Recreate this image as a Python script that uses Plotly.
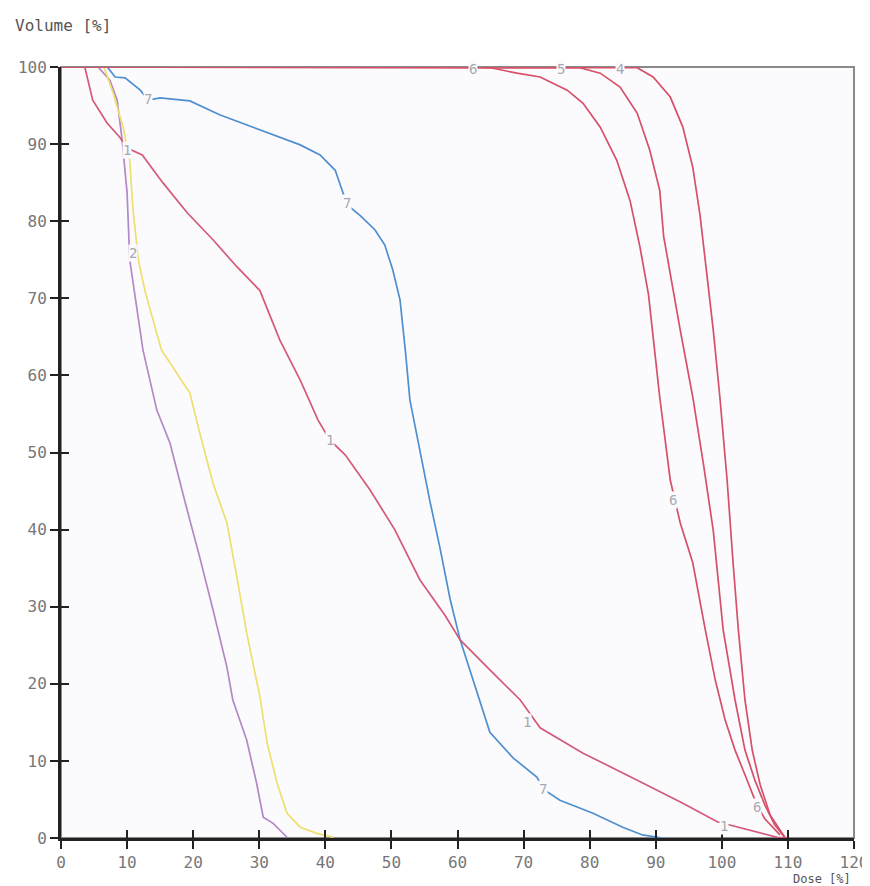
import plotly.graph_objects as go

# ---- data ----
dose_ticks = [0, 10, 20, 30, 40, 50, 60, 70, 80, 90, 100, 110, 120]
vol_ticks = [0, 10, 20, 30, 40, 50, 60, 70, 80, 90, 100]

c1_x = [0, 3.6, 4.8, 7.0, 8.9, 10.0, 12.3, 15.4, 19.1, 23.0, 26.6, 30.1, 33.1, 36.2, 38.9,
        40.7, 43.0, 46.8, 50.5, 54.3, 58.1, 60.4, 64.9, 69.5, 72.5, 79.0, 87.2, 94.1, 99.3,
        102.8, 108.4, 110.3]
c1_y = [100, 100, 95.7, 92.7, 90.9, 89.5, 88.6, 85.0, 81.1, 77.6, 74.1, 71.0, 64.6, 59.4, 54.2,
        51.6, 49.7, 45.1, 40.0, 33.5, 28.9, 25.7, 21.8, 17.9, 14.3, 11.0, 7.5, 4.5, 2.1,
        1.3, 0.1, 0]

c2_x = [0, 6.5, 7.9, 9.4, 10.4, 10.9, 11.7, 12.7, 13.5, 15.2, 19.5, 21.0, 23.0, 25.1,
        26.6, 28.1, 30.1, 31.2, 32.7, 34.2, 36.2, 38.7, 41.2]
c2_y = [100, 100, 96.6, 92.2, 87.9, 81.5, 75.0, 71.0, 68.5, 63.3, 57.7, 52.5, 46.0, 40.9,
        33.9, 26.6, 18.3, 12.3, 7.1, 3.2, 1.4, 0.6, 0.1]

c3_x = [0, 5.6, 7.4, 8.5, 9.2, 10.0, 10.4, 11.5, 12.4, 14.5, 16.5, 19.1, 21.0, 23.0,
        25.1, 26.0, 28.1, 29.6, 30.6, 32.1, 34.2]
c3_y = [100, 100, 98.3, 95.7, 90.9, 83.7, 75.0, 68.5, 63.3, 55.5, 51.2, 42.5, 36.4, 29.6,
        22.2, 17.9, 12.7, 7.1, 2.7, 1.9, 0.1]

c4_x = [0, 87.2, 89.6, 92.2, 94.1, 95.6, 96.7, 98.7, 99.7, 100.8, 101.7, 102.5, 103.5,
        104.6, 105.8, 107.3, 109.6]
c4_y = [100, 99.9, 98.7, 96.1, 92.2, 87.0, 80.8, 65.9, 57.2, 46.4, 35.7, 27.0, 17.9,
        11.4, 6.9, 3.0, 0]

c5_x = [0, 78.5, 81.6, 84.6, 87.2, 89.1, 90.6, 91.2, 93.7, 95.6, 97.2, 98.7, 99.7, 100.2,
        102.0, 103.5, 105.0, 106.5, 108.0, 109.6]
c5_y = [100, 99.9, 99.2, 97.4, 94.0, 89.2, 84.0, 78.0, 65.9, 57.2, 48.6, 39.9, 31.3, 27.0,
        17.9, 11.4, 7.5, 4.3, 1.7, 0]

c6_x = [0, 62.0, 65.0, 69.0, 72.5, 76.6, 79.0, 81.6, 84.1, 86.1, 87.6, 88.9, 90.6, 92.2,
        93.7, 95.6, 97.5, 99.0, 100.5, 102.0, 103.5, 105.3, 106.5, 108.8]
c6_y = [100, 100, 99.9, 99.2, 98.7, 97.0, 95.3, 92.2, 87.9, 82.7, 76.7, 70.5, 57.2, 46.4,
        40.9, 35.7, 27.0, 20.5, 15.3, 11.4, 8.2, 4.3, 2.5, 0.4]

c7_x = [0, 7.0, 8.2, 9.7, 12.0, 13.2, 15.0, 19.5, 24.0, 30.1, 36.2, 39.2, 41.5, 43.3, 45.2,
        47.5, 49.0, 50.2, 51.3, 52.1, 52.8, 54.3, 55.8, 57.4, 58.9, 60.4, 61.9, 63.4, 64.9,
        68.4, 72.0, 73.2, 75.5, 80.5, 85.0, 88.0, 91.0]
c7_y = [100, 100, 98.7, 98.6, 97.0, 95.7, 96.0, 95.6, 93.8, 91.8, 89.9, 88.6, 86.6, 82.1, 80.8,
        78.9, 76.9, 73.7, 69.8, 63.3, 56.8, 50.3, 43.8, 37.4, 30.9, 25.7, 21.8, 17.9, 13.7,
        10.4, 7.9, 6.2, 4.9, 3.2, 1.4, 0.4, 0]

label_text = ["7", "7", "7", "1", "1", "1", "1", "6", "5", "4", "6", "6", "2"]
label_x = [13.2, 43.3, 73.0, 10.0, 40.7, 70.5, 100.3, 62.3, 75.7, 84.6, 92.6, 105.3, 10.9]
label_y = [95.8, 82.3, 6.4, 89.3, 51.6, 15.0, 1.6, 99.8, 99.8, 99.8, 43.8, 4.0, 75.9]

RED = "#d65068"
RED1 = "#d45a78"
BLUE = "#4f8fcf"
YELLOW = "#eedf6e"
PURPLE = "#b488c4"
BG = "#fbfbfe"
FONT = "DejaVu Sans Mono"

series = [
    (c3_x, c3_y, PURPLE),
    (c2_x, c2_y, YELLOW),
    (c7_x, c7_y, BLUE),
    (c1_x, c1_y, RED1),
    (c6_x, c6_y, RED),
    (c5_x, c5_y, RED),
    (c4_x, c4_y, RED),
]

fig = go.Figure()
for xs, ys, col in series:
    fig.add_trace(go.Scatter(x=xs, y=ys, mode="lines",
                             line=dict(color=col, width=1.7),
                             showlegend=False, hoverinfo="skip"))
# dummy trace to create the overlay axes carrying the inner half of the ticks
fig.add_trace(go.Scatter(x=[None], y=[None], xaxis="x2", yaxis="y2",
                         showlegend=False, hoverinfo="skip"))

for t, lx, ly in zip(label_text, label_x, label_y):
    fig.add_annotation(x=lx, y=ly, text=t, showarrow=False,
                       font=dict(family=FONT, size=14, color="#a8a8b0"),
                       bgcolor=BG, borderpad=0)

# page has an 8px body margin: figure spans page x 8..870, y 8..886
fig.add_annotation(xref="paper", yref="paper", x=-0.0605, y=1.0, yshift=42,
                   xanchor="left", yanchor="middle", text="Volume [%]",
                   showarrow=False, font=dict(family=FONT, size=16, color="#555555"))
fig.add_annotation(xref="paper", yref="paper", x=1.0, y=0.0, xshift=-2, yshift=-49,
                   xanchor="right", yanchor="bottom", text="Dose [%]",
                   showarrow=False, borderpad=0,
                   font=dict(family=FONT, size=12, color="#555555"))

fig.add_shape(type="rect", xref="paper", yref="paper", x0=0, y0=0, x1=1, y1=1,
              line=dict(color="#8a8a8a", width=2), layer="below")

tickfont = dict(family=FONT, size=16, color="#777777")
fig.update_layout(
    width=862, height=878, autosize=False,
    margin=dict(l=53, r=16, t=59, b=48),
    paper_bgcolor="#ffffff", plot_bgcolor=BG,
    xaxis=dict(range=[0, 120], tickvals=dose_ticks, ticks="outside", ticklen=8,
               tickwidth=1.5, tickcolor="#222", showgrid=False, zeroline=False,
               showline=True, linecolor="#222", linewidth=3, tickfont=tickfont,
               ticklabelstandoff=0, automargin=False),
    yaxis=dict(range=[0, 100], tickvals=vol_ticks, ticks="outside", ticklen=8,
               tickwidth=1.5, tickcolor="#222", showgrid=False, zeroline=False,
               showline=True, linecolor="#222", linewidth=3, tickfont=tickfont,
               automargin=False),
    xaxis2=dict(range=[0, 120], tickvals=dose_ticks, ticks="inside", ticklen=8,
                tickwidth=1.5, tickcolor="#222", showgrid=False, zeroline=False,
                showline=False, showticklabels=False, overlaying="x", anchor="y2",
                automargin=False),
    yaxis2=dict(range=[0, 100], tickvals=vol_ticks, ticks="inside", ticklen=8,
                tickwidth=1.5, tickcolor="#222", showgrid=False, zeroline=False,
                showline=False, showticklabels=False, overlaying="y", anchor="x2",
                automargin=False),
)

fig.write_html("out.html")
